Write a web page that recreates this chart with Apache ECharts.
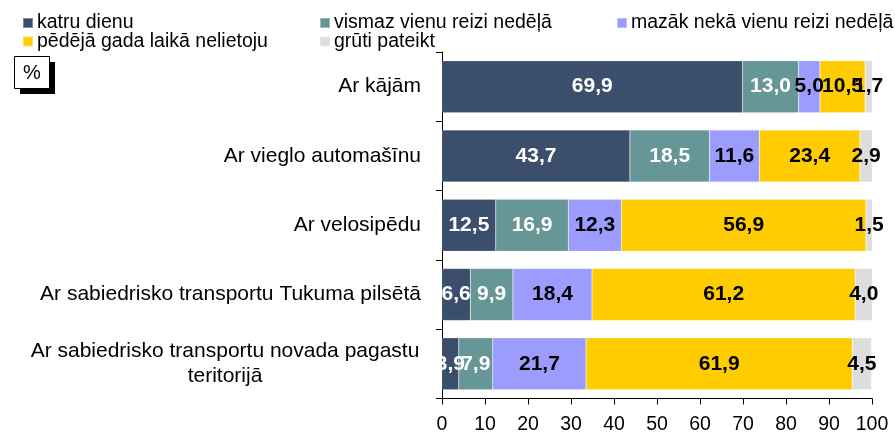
<!DOCTYPE html>
<html><head><meta charset="utf-8">
<script src="https://cdn.jsdelivr.net/npm/echarts@6/dist/echarts.min.js"></script>
<style>html,body{margin:0;padding:0;background:#fff}#c{width:895px;height:435px}</style>
</head><body><div id="c"></div>
<script>
const categories = ['Ar kājām', 'Ar vieglo automašīnu', 'Ar velosipēdu', 'Ar sabiedrisko transportu Tukuma pilsētā', 'Ar sabiedrisko transportu novada pagastu teritorijā'];
const seriesNames = ['katru dienu', 'vismaz vienu reizi nedēļā', 'mazāk nekā vienu reizi nedēļā', 'pēdējā gada laikā nelietoju', 'grūti pateikt'];
const katruDienu = [69.9, 43.7, 12.5, 6.6, 3.9];
const vismazVienu = [13.0, 18.5, 16.9, 9.9, 7.9];
const mazakNeka = [5.0, 11.6, 12.3, 18.4, 21.7];
const nelietoju = [10.5, 23.4, 56.9, 61.2, 61.9];
const gruti = [1.7, 2.9, 1.5, 4.0, 4.5];
const xTicks = [0, 10, 20, 30, 40, 50, 60, 70, 80, 90, 100];

const seriesData = [katruDienu, vismazVienu, mazakNeka, nelietoju, gruti];
const colors = ['#3B4F6D', '#669696', '#9C9CFF', '#FFCC00', '#DDDDDD'];
const labelColors = ['#fff', '#fff', '#000', '#000', '#000'];
const FONT = 'Liberation Sans, Arial, sans-serif';

const chart = echarts.init(document.getElementById('c'));
const legendPos = [[22, 13], [319, 13], [616, 13], [22, 31.5], [319, 31.5]];
chart.setOption({
  animation: false,
  color: colors,
  textStyle: { fontFamily: FONT },
  legend: seriesNames.map((n, i) => ({
    data: [n], left: legendPos[i][0], top: legendPos[i][1],
    icon: 'rect', itemWidth: 10, itemHeight: 10,
    textStyle: { fontSize: 19.5, lineHeight: 19, color: '#000', fontFamily: FONT, padding: [0, 0, 0, -1] },
    padding: 0, selectedMode: false
  })),
  grid: { left: 442, right: 23, top: 52, bottom: 33 },
  xAxis: {
    type: 'value', min: 0, max: 100, interval: 10,
    axisLine: { show: true, lineStyle: { color: '#000' } },
    axisTick: { show: true, length: 6, lineStyle: { color: '#000' } },
    splitLine: { show: false },
    axisLabel: { fontSize: 19.5, lineHeight: 19, color: '#000', margin: 17, fontFamily: FONT,
      formatter: v => xTicks.includes(v) ? String(v) : '' }
  },
  yAxis: {
    type: 'category', data: categories, inverse: true,
    axisLine: { show: true, lineStyle: { color: '#000' } },
    axisTick: { show: true, length: 6, lineStyle: { color: '#000' } },
    axisLabel: {
      fontSize: 21, color: '#000', margin: 21, fontFamily: FONT,
      formatter: v => v === categories[4]
        ? '{c|Ar sabiedrisko transportu novada pagastu}\n{c|teritorijā}'
        : v,
      rich: { c: { width: 392, align: 'center', fontSize: 21, color: '#000', fontFamily: FONT, lineHeight: 25 } }
    }
  },
  series: seriesData.map((d, i) => ({
    name: seriesNames[i], type: 'bar', stack: 'all', data: d, barWidth: 52,
    itemStyle: { color: colors[i], borderColor: 'rgba(255,255,255,0.35)', borderWidth: 0.5 },
    label: {
      show: true, position: 'inside', fontSize: 21, fontWeight: 'bold', fontFamily: FONT,
      color: labelColors[i], textBorderWidth: 0,
      formatter: p => p.value.toFixed(1).replace('.', ',')
    }
  })),
  graphic: [
    { type: 'rect', shape: { x: 20, y: 62, width: 35, height: 32 }, style: { fill: '#000' } },
    { type: 'rect', shape: { x: 14.5, y: 56.5, width: 35, height: 32 }, style: { fill: '#fff', stroke: '#000', lineWidth: 1 } },
    { type: 'text', x: 32, y: 73, style: { text: '%', fontSize: 20, fill: '#000', fontFamily: FONT, align: 'center', verticalAlign: 'middle' } }
  ]
});
</script></body></html>
